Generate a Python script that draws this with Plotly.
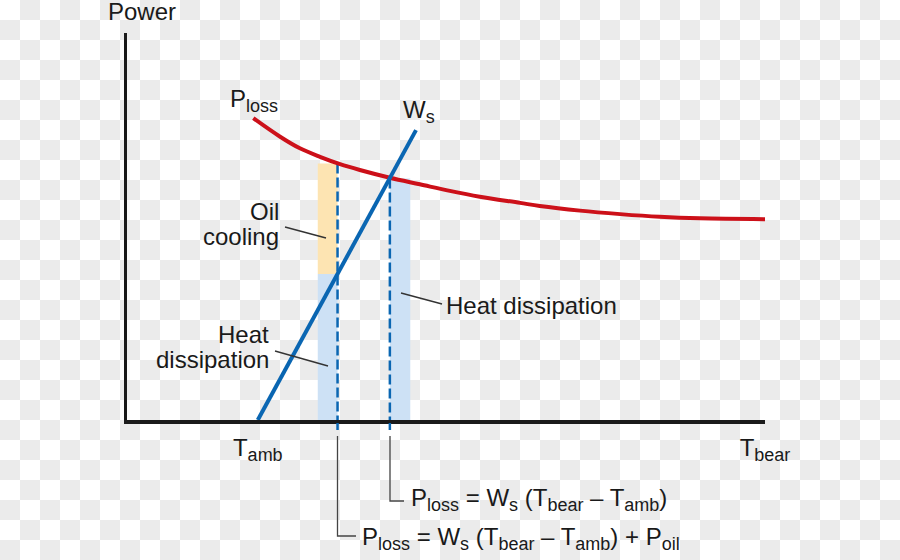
import base64
import plotly.graph_objects as go

# ---------------- data (diagram units: temperature 0..100, power 0..100) ----------------
ploss_T = [19.8, 24.0, 27.1, 30.25, 33.4, 36.5, 41.2, 45.9, 50.6, 55.3, 61.6, 64.7, 71.0, 77.3, 83.5, 89.8, 100.0]
ploss_P = [78.0, 73.2, 70.2, 68.0, 66.1, 64.6, 62.6, 60.9, 59.2, 57.7, 56.1, 55.3, 54.1, 53.2, 52.5, 52.1, 51.9]
ws_T = [20.5, 45.3]
ws_P = [0.0, 74.9]
T_amb = 20.5
T_bear = 100.0
T_oil = 33.0          # operating point with oil cooling
T_free = 41.2         # operating point without oil cooling
P_loss_oil = 66.3     # Ploss at T_oil
P_ws_oil = 37.75      # Ws at T_oil
P_free = 62.4         # Ploss = Ws at T_free
band_oil = [29.9, 33.0]
band_free = [41.2, 44.4]
tick_vals = [T_amb, T_bear]
tick_text = ["T<sub><span style='font-size:18px'>amb</span></sub>",
             "T<sub><span style='font-size:18px'>bear</span></sub>"]

# ---------------- style ----------------
FONT = "Liberation Sans, Arial, Helvetica, sans-serif"
INK = "#1a1a1a"
RED = "#cc1019"
BLUE = "#0a66b2"
ORANGE_FILL = "#fde4b2"
BLUE_FILL = "#cde1f5"
LEAD = "#333333"
FS = 24

W, H = 900, 560
L, R, TOP, BOT = 127, 765, 33, 420


def px(x):
    return (x - L) / (R - L)


def py(y):
    return (BOT - y) / (BOT - TOP)


def sb(s):
    return f"<sub><span style='font-size:18px'>{s}</span></sub>"


fig = go.Figure()

# curves
fig.add_trace(go.Scatter(x=ploss_T, y=ploss_P, mode="lines",
                         line=dict(color=RED, width=4, shape="spline", smoothing=1.0),
                         hoverinfo="skip", showlegend=False))
fig.add_trace(go.Scatter(x=ws_T, y=ws_P, mode="lines", line=dict(color=BLUE, width=4),
                         hoverinfo="skip", showlegend=False))

shapes = []
# shaded bands
shapes.append(dict(type="rect", xref="x", yref="y", x0=band_oil[0], x1=band_oil[1], y0=P_ws_oil, y1=P_loss_oil,
                   fillcolor=ORANGE_FILL, line=dict(width=0), layer="below"))
shapes.append(dict(type="rect", xref="x", yref="y", x0=band_oil[0], x1=band_oil[1], y0=0, y1=P_ws_oil,
                   fillcolor=BLUE_FILL, line=dict(width=0), layer="below"))
shapes.append(dict(type="rect", xref="x", yref="y", x0=band_free[0], x1=band_free[1], y0=0, y1=P_free,
                   fillcolor=BLUE_FILL, line=dict(width=0), layer="below"))
# dashed verticals
for t, p in [(T_oil, P_loss_oil), (T_free, P_free)]:
    shapes.append(dict(type="line", xref="x", yref="y", x0=t, x1=t, y0=p, y1=0,
                       line=dict(color=BLUE, width=2.5, dash="10px,4px"), layer="below"))
    shapes.append(dict(type="line", xref="x", yref="paper", x0=t, x1=t, y0=py(423), y1=py(430),
                       line=dict(color=BLUE, width=2.5), layer="above"))

# bracket leaders to equations
shapes.append(dict(type="path", xref="paper", yref="paper",
                   path=f"M {px(390)} {py(436)} L {px(390)} {py(501)} L {px(404)} {py(501)}",
                   line=dict(color="#444444", width=1.3)))
shapes.append(dict(type="path", xref="paper", yref="paper",
                   path=f"M {px(337.5)} {py(436)} L {px(337.5)} {py(536)} L {px(356)} {py(536)}",
                   line=dict(color="#444444", width=1.3)))
# label leaders
for (x0, y0, x1, y1) in [(285, 227, 326, 238), (275, 351, 328, 366), (401, 293, 442, 304)]:
    shapes.append(dict(type="line", xref="paper", yref="paper", x0=px(x0), y0=py(y0), x1=px(x1), y1=py(y1),
                       line=dict(color=LEAD, width=1.4)))

annotations = []


def txt(s, x, y, xa="left"):
    annotations.append(dict(text=s, xref="paper", yref="paper", x=px(x), y=py(y), xanchor=xa, yanchor="middle",
                            showarrow=False, borderpad=0, font=dict(family=FONT, size=FS, color=INK)))


txt("Power", 107, 11)
txt("P" + sb("loss"), 229, 100)
txt("W" + sb("s"), 402, 111)
txt("Oil", 280, 211, "right")
txt("cooling", 280, 236, "right")
txt("Heat", 270, 334, "right")
txt("dissipation", 270, 359, "right")
txt("Heat dissipation", 445, 305)
txt("P" + sb("loss") + " = W" + sb("s") + " (T" + sb("bear") + " – T" + sb("amb") + ")", 410, 499)
txt("P" + sb("loss") + " = W" + sb("s") + " (T" + sb("bear") + " – T" + sb("amb") + ") + P" + sb("oil"), 361, 538)

# checkerboard background (as in the reference picture)
svg = ('<svg xmlns="http://www.w3.org/2000/svg" width="900" height="560">'
       '<defs><pattern id="c" width="40" height="40" patternUnits="userSpaceOnUse">'
       '<rect width="40" height="40" fill="#ffffff"/>'
       '<rect x="20" y="0" width="20" height="20" fill="#ebebeb"/>'
       '<rect x="0" y="20" width="20" height="20" fill="#ebebeb"/>'
       '</pattern></defs><rect width="900" height="560" fill="url(#c)"/></svg>')
src = "data:image/svg+xml;base64," + base64.b64encode(svg.encode()).decode()

fig.update_layout(
    width=W, height=H,
    margin=dict(l=L, r=W - R, t=TOP, b=H - BOT, pad=0),
    paper_bgcolor="#ffffff", plot_bgcolor="rgba(0,0,0,0)",
    showlegend=False, hovermode=False,
    shapes=shapes, annotations=annotations,
    images=[dict(source=src, xref="paper", yref="paper", x=px(0), y=py(0),
                 sizex=W / (R - L), sizey=H / (BOT - TOP), xanchor="left", yanchor="top",
                 sizing="stretch", layer="below")],
    xaxis=dict(range=[0, 100], showline=True, linecolor=INK, linewidth=3.5, showgrid=False, zeroline=False,
               tickmode="array", tickvals=tick_vals, ticktext=tick_text, ticks="", ticklabelstandoff=4,
               tickfont=dict(family=FONT, size=FS, color=INK), fixedrange=True),
    yaxis=dict(range=[0, 100], showline=True, linecolor=INK, linewidth=3.5, showgrid=False, zeroline=False,
               showticklabels=False, ticks="", fixedrange=True),
)

fig.write_html("out.html", config={"displayModeBar": False, "staticPlot": True},
               post_script="document.body.style.margin='0';document.body.style.padding='0';")
